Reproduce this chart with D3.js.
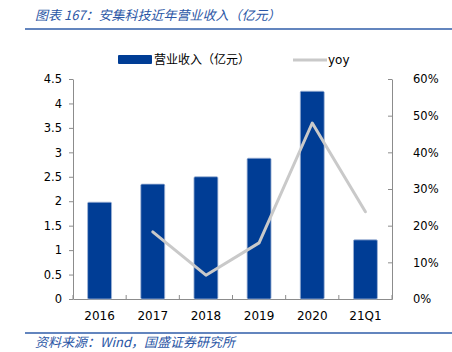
<!DOCTYPE html>
<html>
<head>
<meta charset="utf-8">
<script src="https://cdn.jsdelivr.net/npm/d3@7"></script>
<style>
  body { margin: 0; background: #fff; }
  svg { display: block; }
</style>
</head>
<body>
<svg id="chart" width="452" height="352"></svg>
<script>
// data
const categories = ["2016", "2017", "2018", "2019", "2020", "21Q1"];
const revenue = [1.98, 2.35, 2.50, 2.88, 4.25, 1.21];
const yoy = [null, 18.3, 6.5, 15.3, 48.0, 23.8];
const leftTicks = [0, 0.5, 1, 1.5, 2, 2.5, 3, 3.5, 4, 4.5];
const rightTicks = [0, 10, 20, 30, 40, 50, 60];

const svg = d3.select("#chart");
const plotL = 73, plotR = 392, plotT = 79, plotB = 299;
const blue = "#003d95";
const textBlue = "#2a56a5";
const axisGrey = "#8c8c8c";
const numFont = "'DejaVu Sans', Verdana, sans-serif";
const cjkFont = "'Noto Sans CJK SC', sans-serif";

const x = d3.scaleBand().domain(categories).range([plotL, plotR]).paddingInner(0.55).paddingOuter(0.275);
const y = d3.scaleLinear().domain([0, 4.5]).range([plotB, plotT]);
const y2 = d3.scaleLinear().domain([0, 60]).range([plotB, plotT]);

// title + rule
svg.append("text")
  .attr("x", 35).attr("y", 20)
  .attr("font-family", cjkFont)
  .attr("font-style", "italic")
  .attr("font-size", "13px")
  .attr("fill", textBlue)
  .text("图表 167：安集科技近年营业收入（亿元）");
svg.append("line")
  .attr("x1", 25).attr("x2", 452).attr("y1", 29).attr("y2", 29)
  .attr("stroke", "#2f5ca8").attr("stroke-width", 1.5);

// source + rule
svg.append("line")
  .attr("x1", 25).attr("x2", 452).attr("y1", 333).attr("y2", 333)
  .attr("stroke", "#2f5ca8").attr("stroke-width", 1.5);
svg.append("text")
  .attr("x", 35).attr("y", 347)
  .attr("font-family", cjkFont)
  .attr("font-style", "italic")
  .attr("font-size", "13px")
  .attr("fill", textBlue)
  .text("资料来源：Wind，国盛证券研究所");

// axes
function styleAxis(g) {
  g.select(".domain").attr("stroke", axisGrey);
  g.selectAll(".tick line").attr("stroke", axisGrey);
  g.selectAll(".tick text").attr("fill", "#000").attr("font-family", numFont).attr("font-size", "11.5px");
}

const yAxis = svg.append("g")
  .attr("transform", "translate(" + plotL + ",0)")
  .call(d3.axisLeft(y).tickValues(leftTicks).tickSize(4).tickSizeOuter(0).tickPadding(7).tickFormat(d3.format("")));
styleAxis(yAxis);

const y2Axis = svg.append("g")
  .attr("transform", "translate(" + plotR + ",0)")
  .call(d3.axisRight(y2).tickValues(rightTicks).tickSize(-4).tickSizeOuter(0).tickPadding(21).tickFormat((d) => d + "%"));
styleAxis(y2Axis);

// x axis: line plus inward ticks at category boundaries
const xAxis = svg.append("g")
  .attr("transform", "translate(0," + plotB + ")")
  .call(d3.axisBottom(x).tickSize(0).tickPadding(12));
styleAxis(xAxis);
xAxis.selectAll(".tick text").attr("font-size", "12px");
const step = x.step();
xAxis.selectAll(".sep")
  .data(d3.range(categories.length + 1))
  .enter()
  .append("line")
  .attr("x1", (i) => plotL + i * step)
  .attr("x2", (i) => plotL + i * step)
  .attr("y1", 0).attr("y2", -4)
  .attr("stroke", axisGrey);

// bars
svg.append("g")
  .selectAll("rect")
  .data(revenue)
  .enter()
  .append("rect")
  .attr("x", (d, i) => x(categories[i]))
  .attr("y", (d) => y(d))
  .attr("width", x.bandwidth())
  .attr("height", (d) => plotB - y(d))
  .attr("rx", 1.2)
  .attr("fill", blue)
  .attr("stroke", "#9fb4d6")
  .attr("stroke-width", 0.8);

// yoy line
const line = d3.line()
  .defined((d) => d != null)
  .x((d, i) => x(categories[i]) + x.bandwidth() / 2)
  .y((d) => y2(d));
svg.append("path")
  .datum(yoy)
  .attr("d", line)
  .attr("fill", "none")
  .attr("stroke", "#c9c9c9")
  .attr("stroke-width", 3)
  .attr("stroke-linejoin", "round")
  .attr("stroke-linecap", "round");

// legend
svg.append("rect")
  .attr("x", 118).attr("y", 55).attr("width", 34).attr("height", 9)
  .attr("rx", 1)
  .attr("fill", blue);
svg.append("text")
  .attr("x", 154).attr("y", 64)
  .attr("font-family", cjkFont)
  .attr("font-size", "12px")
  .attr("fill", "#000")
  .text("营业收入（亿元）");
svg.append("line")
  .attr("x1", 293).attr("x2", 327).attr("y1", 60).attr("y2", 60)
  .attr("stroke", "#c9c9c9").attr("stroke-width", 3);
svg.append("text")
  .attr("x", 328).attr("y", 64)
  .attr("font-family", numFont)
  .attr("font-size", "12px")
  .attr("fill", "#000")
  .text("yoy");
</script>
</body>
</html>
